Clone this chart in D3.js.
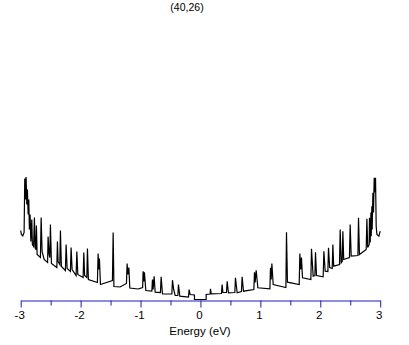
<!DOCTYPE html>
<html>
<head>
<meta charset="utf-8">
<script src="https://cdn.jsdelivr.net/npm/d3@7"></script>
<style>
  body { margin: 0; background: #fff; }
  text { font-family: "Liberation Sans", Arial, sans-serif; }
</style>
</head>
<body>
<div id="chart"></div>
<script>
const title = '(40,26)';
const xLabel = 'Energy (eV)';
const majorTicks = [-3, -2, -1, 0, 1, 2, 3];
const minorTicks = [-2.5, -1.5, -0.5, 0.5, 1.5, 2.5];

// [energy (eV), DOS (arb. units)]
const valenceBand = [
  [-3.000, 0.69], [-2.988, 0.65], [-2.965, 0.635], [-2.943, 0.67], [-2.932, 1.21], [-2.922, 1.00],
  [-2.910, 1.225], [-2.898, 0.95], [-2.888, 1.10], [-2.876, 0.85], [-2.865, 1.00], [-2.855, 0.70],
  [-2.843, 0.85], [-2.831, 0.58], [-2.815, 0.80], [-2.805, 0.55], [-2.785, 0.53], [-2.771, 0.82],
  [-2.760, 0.52], [-2.748, 0.50], [-2.738, 0.74], [-2.726, 0.45], [-2.671, 0.42], [-2.659, 0.82],
  [-2.643, 0.48], [-2.609, 0.40], [-2.551, 0.37], [-2.543, 0.63], [-2.526, 0.45], [-2.514, 0.42],
  [-2.504, 0.75], [-2.487, 0.36], [-2.397, 0.32], [-2.387, 0.58], [-2.376, 0.38], [-2.347, 0.35],
  [-2.337, 0.69], [-2.321, 0.33], [-2.254, 0.29], [-2.242, 0.55], [-2.225, 0.31], [-2.170, 0.28],
  [-2.159, 0.52], [-2.142, 0.30], [-2.075, 0.24], [-2.063, 0.48], [-2.047, 0.25], [-1.958, 0.22],
  [-1.947, 0.47], [-1.933, 0.24], [-1.896, 0.22], [-1.886, 0.51], [-1.870, 0.20], [-1.720, 0.17],
  [-1.708, 0.46], [-1.696, 0.30], [-1.686, 0.41], [-1.669, 0.15], [-1.469, 0.19], [-1.457, 0.67],
  [-1.444, 0.13], [-1.341, 0.125], [-1.235, 0.16], [-1.224, 0.36], [-1.212, 0.25], [-1.195, 0.32],
  [-1.179, 0.115], [-1.040, 0.105], [-0.965, 0.12], [-0.957, 0.283], [-0.945, 0.18], [-0.935, 0.273],
  [-0.912, 0.09], [-0.811, 0.085], [-0.801, 0.20], [-0.790, 0.10], [-0.773, 0.233], [-0.756, 0.073],
  [-0.668, 0.07], [-0.656, 0.227], [-0.634, 0.057], [-0.477, 0.055], [-0.467, 0.193], [-0.447, 0.10],
  [-0.422, 0.04], [-0.377, 0.04], [-0.367, 0.15], [-0.344, 0.033], [-0.200, 0.025], [-0.189, 0.10],
  [-0.172, 0.05], [-0.100, 0.045], [-0.100, 0]
];

const conductionBand = [
  [0.095, 0], [0.095, 0.05], [0.162, 0.055], [0.167, 0.107], [0.179, 0.057], [0.351, 0.06],
  [0.362, 0.15], [0.374, 0.07], [0.434, 0.07], [0.446, 0.183], [0.467, 0.067], [0.574, 0.07],
  [0.584, 0.217], [0.613, 0.067], [0.684, 0.08], [0.696, 0.227], [0.718, 0.083], [0.891, 0.10],
  [0.902, 0.273], [0.913, 0.17], [0.930, 0.293], [0.958, 0.117], [1.159, 0.107], [1.169, 0.317],
  [1.180, 0.20], [1.192, 0.36], [1.214, 0.15], [1.426, 0.12], [1.436, 0.673], [1.452, 0.173],
  [1.648, 0.15], [1.659, 0.46], [1.673, 0.30], [1.686, 0.42], [1.703, 0.217], [1.843, 0.20],
  [1.853, 0.507], [1.881, 0.233], [1.910, 0.24], [1.920, 0.473], [1.937, 0.24], [2.048, 0.227],
  [2.060, 0.483], [2.082, 0.283], [2.127, 0.28], [2.137, 0.517], [2.157, 0.32], [2.199, 0.31],
  [2.210, 0.55], [2.224, 0.333], [2.321, 0.35], [2.332, 0.70], [2.349, 0.367], [2.366, 0.38],
  [2.377, 0.683], [2.391, 0.40], [2.487, 0.42], [2.499, 0.75], [2.516, 0.433], [2.628, 0.44],
  [2.638, 0.817], [2.654, 0.45], [2.766, 0.50], [2.778, 0.807], [2.791, 0.52], [2.816, 0.55],
  [2.821, 0.817], [2.833, 0.57], [2.845, 0.87], [2.850, 0.633], [2.861, 0.933], [2.866, 0.70],
  [2.878, 1.067], [2.888, 0.87], [2.900, 1.217], [2.912, 1.07], [2.922, 1.217], [2.933, 0.733],
  [2.945, 0.65], [2.978, 0.633], [3.000, 0.683]
];

const width = 409;
const height = 345;
const axisY = 300.5;
const axisColor = '#1a1ac4';

const svg = d3.select('#chart').append('svg')
  .attr('width', width)
  .attr('height', height)
  .style('display', 'block');

svg.append('rect').attr('width', width).attr('height', height).attr('fill', '#fff');

const x = d3.scaleLinear().domain([-3, 3]).range([20.7, 380.2]);
const y = d3.scaleLinear().domain([0, 1]).range([299.5, 199.5]);

// minor ticks
svg.append('g')
  .attr('transform', `translate(0,${axisY})`)
  .call(d3.axisBottom(x).tickValues(minorTicks).tickSize(5).tickSizeOuter(0).tickFormat(''))
  .call(g => g.select('.domain').remove())
  .call(g => g.selectAll('line').attr('stroke', axisColor));

// major ticks + labels (plain hyphen for negatives)
svg.append('g')
  .attr('transform', `translate(0,${axisY})`)
  .call(d3.axisBottom(x).tickValues(majorTicks).tickSize(7).tickSizeOuter(0).tickPadding(3).tickFormat(d => String(d)))
  .call(g => g.select('.domain').attr('stroke', axisColor))
  .call(g => g.selectAll('line').attr('stroke', axisColor))
  .call(g => g.selectAll('text')
    .attr('fill', '#000')
    .attr('dx', -1.5)
    .style('font-size', '11.5px')
    .style('font-family', '"Liberation Sans", Arial, sans-serif'));

const line = d3.line()
  .x(d => x(d[0]))
  .y(d => y(d[1]));

const curve = valenceBand.concat(conductionBand);

svg.append('path')
  .datum(curve)
  .attr('d', line)
  .attr('fill', 'none')
  .attr('stroke', '#000')
  .attr('stroke-width', 1.2)
  .attr('stroke-linejoin', 'miter');

svg.append('text')
  .attr('x', 187)
  .attr('y', 11)
  .attr('text-anchor', 'middle')
  .style('font-size', '10.5px')
  .text(title);

svg.append('text')
  .attr('x', 200)
  .attr('y', 335)
  .attr('text-anchor', 'middle')
  .style('font-size', '11.5px')
  .text(xLabel);
</script>
</body>
</html>
